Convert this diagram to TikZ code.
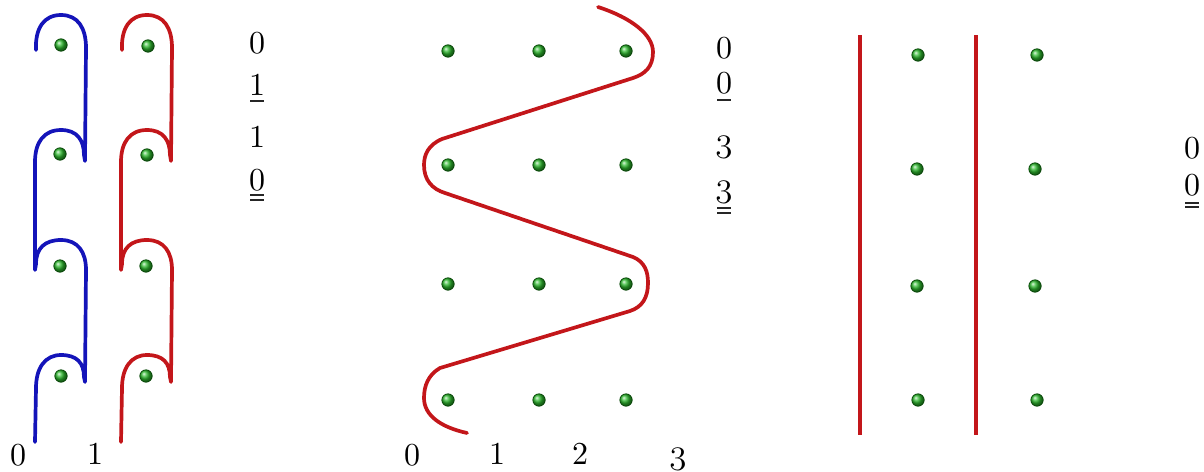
\RequirePackage{fix-cm}
\documentclass[tikz,border=0pt]{standalone}
\usepackage{fontspec}
\newfontfamily\lmten{lmroman10-regular.otf}
\definecolor{bline}{RGB}{20,20,185}
\definecolor{rline}{RGB}{195,22,26}
\definecolor{dotg}{RGB}{45,185,45}
\tikzset{
  dot/.style={circle,inner sep=0pt,minimum size=12.5pt,shading=ball,ball color=dotg,draw=green!25!black,line width=0.6pt},
  curve/.style={line width=3.7pt,line cap=round,line join=round},
  lab/.style={inner sep=0pt,anchor=base,font=\lmten\fontsize{32}{32}\selectfont},
  labo/.style={inner sep=0pt,anchor=base,font=\fontsize{35}{35}\selectfont},
  ul/.style={line width=1.3pt,black!85}
}
\newcommand\osn[1]{{\usefont{OML}{cmm}{m}{it}#1}}
\begin{document}
\begin{tikzpicture}[x=1pt,y=-1pt]
\useasboundingbox (0,0) rectangle (1204,471);
% ---------- panel 1 ----------
\foreach \dx/\col in {0/bline,86/rline}{
  \begin{scope}[xshift=\dx pt]
  \draw[curve,\col] (36,50) .. controls (35,28) and (44,15) .. (61,15)
     .. controls (78,15) and (86,28) .. (86,48) -- (85,161)
     -- (84,155) .. controls (84,140) and (77,130) .. (61,130)
     .. controls (44,130) and (35,142) .. (35,162) -- (35,270)
     -- (36,264) .. controls (36,248) and (45,240) .. (61,240)
     .. controls (78,240) and (86,252) .. (86,270) -- (85,382)
     -- (84,377) .. controls (84,363) and (77,355) .. (61,355)
     .. controls (45,355) and (36,368) .. (36,388) -- (35,442);
  \end{scope}
}
\node[dot] (b1) at (61,45) {};
\node[dot] (b2) at (60,154) {};
\node[dot] (b3) at (60,266) {};
\node[dot] (b4) at (61,376) {};
\node[dot] (r1) at (148,46) {};
\node[dot] (r2) at (147,155) {};
\node[dot] (r3) at (146,266) {};
\node[dot] (r4) at (146,376) {};
\node[lab] (p1b0) at (18,465) {0};
\node[lab] (p1b1) at (95,464) {1};
\node[lab] (p1r1) at (257,53) {0};
\node[lab] (p1r2) at (257,95) {1};
\node[lab] (p1r3) at (257,147) {1};
\node[lab] (p1r4) at (257,190) {0};
\draw[ul] ([xshift=-7pt,yshift=-6pt]p1r2.base) -- ++(14pt,0);
\draw[ul] ([xshift=-7pt,yshift=-5pt]p1r4.base) -- ++(14pt,0);
\draw[ul] ([xshift=-7pt,yshift=-10pt]p1r4.base) -- ++(14pt,0);
% ---------- panel 2 ----------
\foreach \x/\c in {448/1,539/2,626/3}{
  \foreach \y/\r in {51/1,165/2,284/3,400/4}{
    \node[dot] (w\c\r) at (\x,\y) {};
  }
}
\draw[curve,rline] (598,7) .. controls (632,18) and (653,35) .. (653,52)
   .. controls (653,67) and (645,74) .. (633,78) -- (442,139)
   .. controls (428,145) and (424,155) .. (424,165)
   .. controls (424,180) and (432,189) .. (445,193) -- (633,257)
   .. controls (645,262) and (648,272) .. (648,283)
   .. controls (648,298) and (642,307) .. (630,311) -- (440,368)
   .. controls (428,375) and (424,386) .. (424,398)
   .. controls (424,415) and (440,427) .. (467,433);
\node[lab] (p2b0) at (412,465) {0};
\node[lab] (p2b1) at (497,464) {1};
\node[lab] (p2b2) at (580,464) {2};
\node[labo] (p2b3) at (678,463) {\osn{3}};
\node[lab] (p2r1) at (724,58) {0};
\node[lab] (p2r2) at (724,93) {0};
\node[labo] (p2r3) at (724,151) {\osn{3}};
\node[labo] (p2r4) at (724,196) {\osn{3}};
\draw[ul] ([xshift=-7pt,yshift=-7pt]p2r2.base) -- ++(14pt,0);
\draw[ul] ([xshift=-7pt,yshift=-12pt]p2r4.base) -- ++(14pt,0);
\draw[ul] ([xshift=-7pt,yshift=-17pt]p2r4.base) -- ++(14pt,0);
% ---------- panel 3 ----------
\coordinate (l1t) at (860,35); \coordinate (l1b) at (860,435);
\coordinate (l2t) at (976,35); \coordinate (l2b) at (976,435);
\draw[curve,rline,line cap=butt] (l1t) -- (l1b);
\draw[curve,rline,line cap=butt] (l2t) -- (l2b);
\node[dot] (v11) at (918,55) {};
\node[dot] (v12) at (917,169) {};
\node[dot] (v13) at (917,286) {};
\node[dot] (v14) at (918,400) {};
\node[dot] (v21) at (1037,55) {};
\node[dot] (v22) at (1035,169) {};
\node[dot] (v23) at (1035,286) {};
\node[dot] (v24) at (1037,400) {};
\node[lab] (p3r1) at (1192,158) {0};
\node[lab] (p3r2) at (1192,195) {0};
\draw[ul] ([xshift=-7pt,yshift=-8pt]p3r2.base) -- ++(14pt,0);
\draw[ul] ([xshift=-7pt,yshift=-12pt]p3r2.base) -- ++(14pt,0);
\end{tikzpicture}
\end{document}
